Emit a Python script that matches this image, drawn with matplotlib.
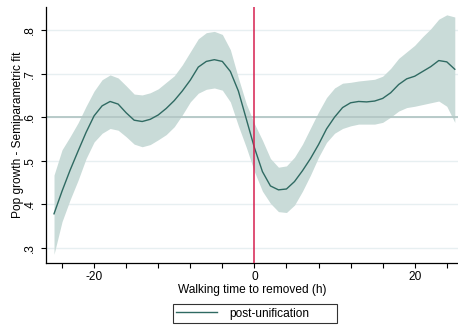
import numpy as np
import matplotlib
matplotlib.use("Agg")
import matplotlib.pyplot as plt

plt.rcParams["font.family"] = ["Liberation Sans", "DejaVu Sans"]

# walking time (h) and semiparametric fit with confidence band
horas = np.arange(-25, 26)
ajuste = [0.378, 0.430, 0.478, 0.522, 0.565, 0.603, 0.626, 0.636, 0.630, 0.610,
          0.593, 0.590, 0.595, 0.605, 0.620, 0.638, 0.660, 0.685, 0.715, 0.728,
          0.732, 0.728, 0.705, 0.660, 0.595, 0.530, 0.475, 0.442, 0.433, 0.435,
          0.452, 0.477, 0.505, 0.537, 0.573, 0.600, 0.622, 0.633, 0.636, 0.635,
          0.637, 0.643, 0.656, 0.675, 0.688, 0.694, 0.705, 0.716, 0.730, 0.727,
          0.710]
limite_sup = [0.467, 0.525, 0.555, 0.587, 0.625, 0.660, 0.686, 0.697, 0.690, 0.672,
              0.653, 0.651, 0.656, 0.665, 0.680, 0.695, 0.720, 0.750, 0.780, 0.794,
              0.797, 0.790, 0.755, 0.690, 0.630, 0.585, 0.547, 0.505, 0.485, 0.488,
              0.508, 0.538, 0.575, 0.612, 0.645, 0.667, 0.678, 0.680, 0.683, 0.685,
              0.687, 0.694, 0.712, 0.735, 0.750, 0.765, 0.785, 0.803, 0.825, 0.835,
              0.830]
limite_inf = [0.285, 0.360, 0.410, 0.455, 0.505, 0.543, 0.563, 0.574, 0.570, 0.555,
              0.538, 0.532, 0.537, 0.548, 0.560, 0.578, 0.605, 0.635, 0.655, 0.664,
              0.667, 0.662, 0.635, 0.580, 0.530, 0.475, 0.430, 0.402, 0.383, 0.381,
              0.398, 0.430, 0.467, 0.508, 0.542, 0.563, 0.574, 0.580, 0.584, 0.584,
              0.584, 0.588, 0.600, 0.614, 0.622, 0.625, 0.629, 0.633, 0.637, 0.625,
              0.588]

y_ticks = [0.3, 0.4, 0.5, 0.6, 0.7, 0.8]
y_labels = [".3", ".4", ".5", ".6", ".7", ".8"]
x_ticks = [-20, 0, 20]
linha_ref = 0.6

fs = 8.6

fig = plt.figure(figsize=(4.58, 3.29), dpi=100)
ax = fig.add_axes([46 / 458, 1 - 263 / 329, 412 / 458, 256 / 329])

# grade horizontal clara
for yt in y_ticks:
    ax.axhline(yt, color="#e7eff1", linewidth=1.0, zorder=0)

ax.fill_between(horas, limite_inf, limite_sup, color="#c9dbd8", linewidth=0, zorder=1)
ax.axhline(linha_ref, color="#b3c7c5", linewidth=1.3, zorder=2)
ax.plot(horas, ajuste, color="#2f6a62", linewidth=1.0, zorder=3, label="post-unification")
ax.axvline(0, color="#d6204f", linewidth=1.1, zorder=4)

ax.set_xlim(-26, 25.4)
ax.set_ylim(0.265, 0.853)

ax.set_yticks(y_ticks)
ax.set_yticklabels(y_labels, rotation=90, va="center", fontsize=fs)
ax.set_xticks(x_ticks)
ax.set_xticklabels([str(v) for v in x_ticks], fontsize=fs)
ax.set_xticks(np.arange(-24, 25, 4), minor=True)
ax.tick_params(axis="both", which="both", direction="out", length=3.5, width=0.8, color="black")
ax.tick_params(axis="x", which="major", pad=2)

for lado in ["top", "right"]:
    ax.spines[lado].set_visible(False)
ax.spines["left"].set_linewidth(0.9)
ax.spines["bottom"].set_linewidth(0.9)

ax.set_xlabel("Walking time to removed (h)", fontsize=fs, labelpad=1)
ax.set_ylabel("Pop growth - Semiparametric fit", fontsize=fs)
ax.yaxis.set_label_coords(-0.053, 0.5)

# legenda em caixa embaixo, no estilo Stata
leg = fig.legend(loc="center", mode="expand",
                 bbox_to_anchor=(172.5 / 458, 1 - 324.5 / 329, 164 / 458, 22 / 329),
                 fontsize=fs, frameon=True, fancybox=False, edgecolor="black",
                 handlelength=3.45, borderpad=0.3, borderaxespad=0,
                 handletextpad=1.0)
leg.get_frame().set_linewidth(0.8)

fig.savefig("out.png", dpi=100, facecolor="white")
